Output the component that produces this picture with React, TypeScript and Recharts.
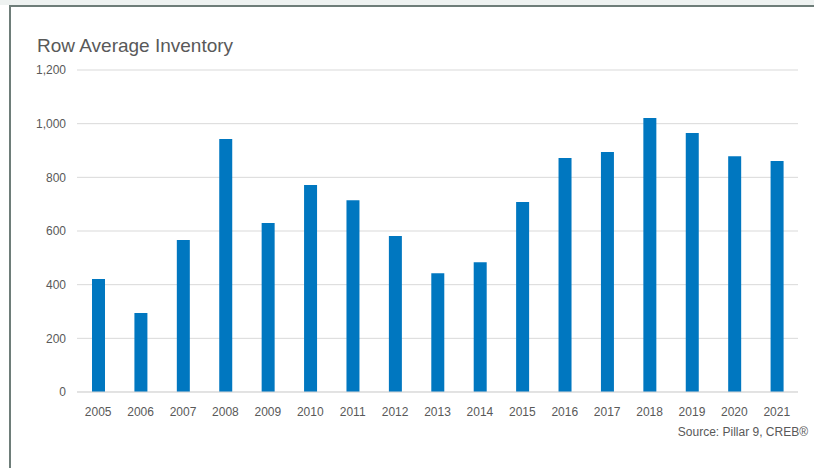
import { BarChart, Bar, XAxis, YAxis, CartesianGrid } from 'recharts'

const years = ['2005', '2006', '2007', '2008', '2009', '2010', '2011', '2012', '2013', '2014', '2015', '2016', '2017', '2018', '2019', '2020', '2021']
const inventory = [421, 294, 566, 943, 630, 771, 715, 581, 443, 484, 708, 872, 894, 1021, 965, 879, 861]
const yTicks = [0, 200, 400, 600, 800, 1000, 1200]

const data = years.map((year, i) => ({ year, value: inventory[i] }))

const FONT = '"Liberation Sans", Arial, sans-serif'
const TEXT = '#595959'

export default function App() {
  return (
    <div style={{ position: 'fixed', left: 0, top: 0, width: 814, height: 468, background: '#fff', fontFamily: FONT, overflow: 'hidden' }}>
      <div style={{ position: 'absolute', left: 0, top: 0, width: 814, height: 5, background: '#eef2f1' }} />
      <div style={{ position: 'absolute', left: 9, top: 5, width: 830, height: 2, background: '#6e7d79' }} />
      <div style={{ position: 'absolute', left: 9, top: 5, width: 2, height: 470, background: '#6e7d79' }} />
      <div style={{ position: 'absolute', left: 37, top: 35, fontSize: 19, color: TEXT, whiteSpace: 'nowrap' }}>Row Average Inventory</div>
      <div style={{ position: 'absolute', left: 0, top: 0 }}>
        <BarChart width={814} height={468} data={data} margin={{ top: 70, right: 16, left: 0, bottom: 46 }} barSize={13}>
          <CartesianGrid vertical={false} stroke="#d9d9d9" />
          <XAxis dataKey="year" tick={{ fontSize: 12, fill: TEXT, fontFamily: FONT }} tickLine={false} axisLine={{ stroke: '#d9d9d9' }} tickMargin={9} height={30} interval={0} />
          <YAxis domain={[0, 1200]} ticks={yTicks} tickFormatter={(v: number) => v.toLocaleString('en-US')} tick={{ fontSize: 12, fill: TEXT, fontFamily: FONT }} tickLine={false} axisLine={false} tickSize={0} tickMargin={11} width={77} />
          <Bar dataKey="value" fill="#0077c0" isAnimationActive={false} />
        </BarChart>
      </div>
      <div style={{ position: 'absolute', right: 6, top: 425, fontSize: 12, color: TEXT, whiteSpace: 'nowrap' }}>Source: Pillar 9, CREB®</div>
    </div>
  )
}
